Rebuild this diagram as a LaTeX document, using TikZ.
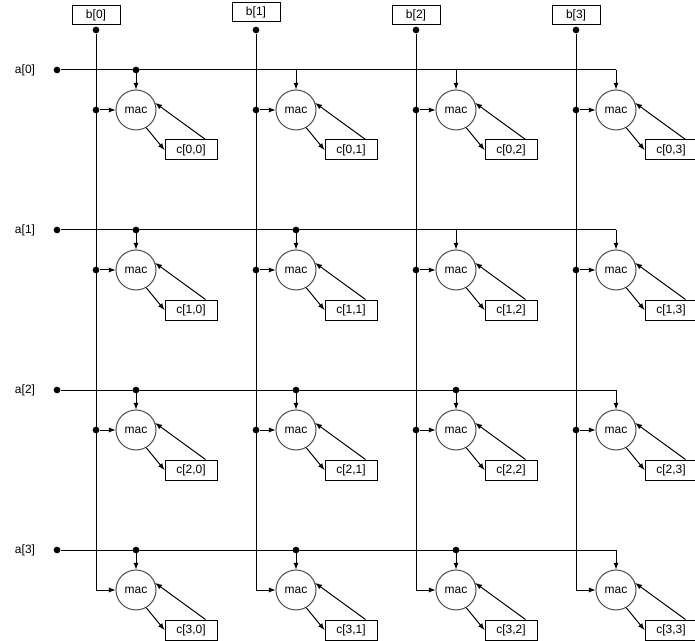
\documentclass[tikz,border=0pt]{standalone}
\usepackage{fontspec}
\setmainfont{Liberation Sans}
\usetikzlibrary{positioning}

\tikzset{
  wire/.style={line width=0.75pt},
  feed/.style={wire,-latex},
  dot/.style={circle,fill,inner sep=0pt,minimum size=5pt},
  mac/.style={circle,draw=black!70,line width=0.75pt,minimum size=30pt,inner sep=0pt,font=\small},
  reg/.style={draw,line width=0.75pt,minimum width=39pt,minimum height=15pt,inner sep=1pt,font=\small}
}

\begin{document}
\begin{tikzpicture}[x=0.75pt,y=-0.75pt]
  \useasboundingbox (0,0) rectangle (695,641);

  \foreach \j in {0,...,3} {
    \pgfmathsetmacro{\bx}{96+160*\j}
    \pgfmathsetmacro{\by}{\j==1 ? 12 : 15}
    \node at (\bx,\by) [reg,minimum width=36pt,minimum height=14pt] (b-\j) {b[\j]};
    \node at (\bx,30) [dot] (bd-\j) {};
  }

  \foreach \i in {0,...,3} {
    \pgfmathsetmacro{\ay}{70+160*\i}
    \node at (25,\ay) [font=\small] (a-\i) {a[\i]};
    \node at (57,\ay) [dot] (ad-\i) {};
    \foreach \j in {0,...,3} {
      \node at (136+160*\j,110+160*\i) [mac] (mac-\i-\j) {mac};
      \node at (191+160*\j,150+160*\i) [reg] (c-\i-\j) {c[\i,\j]};
      \draw[feed] (mac-\i-\j.-60) -- (c-\i-\j.west);
      \draw[feed] ([xshift=-9pt]c-\i-\j.north east) -- (mac-\i-\j.20);
    }
  }

  % column wires (b)
  \foreach \j in {0,...,3} {
    \coordinate (bend-\j) at (96+160*\j,590);
    \draw[wire] (bd-\j) -- (bend-\j);
    \draw[feed] (bend-\j) -- (mac-3-\j.west);
    \foreach \i in {0,1,2} {
      \node at (96+160*\j,110+160*\i) [dot] (bt-\i-\j) {};
      \draw[feed] (bt-\i-\j) -- (mac-\i-\j.west);
    }
  }

  % row wires (a)
  \foreach \i in {0,...,3} {
    \coordinate (aend-\i) at (616,70+160*\i);
    \draw[wire] (ad-\i) -- (aend-\i);
    \draw[feed] (aend-\i) -- (mac-\i-3.north);
    \foreach \j in {0,1,2} {
      \coordinate (at-\i-\j) at (136+160*\j,70+160*\i);
      \draw[feed] (at-\i-\j) -- (mac-\i-\j.north);
    }
  }

  % junction dots on row wires
  \foreach \i/\j in {0/0,1/0,1/1,2/0,2/1,2/2,3/0,3/1,3/2}
    \node at (at-\i-\j) [dot] {};
\end{tikzpicture}
\end{document}
